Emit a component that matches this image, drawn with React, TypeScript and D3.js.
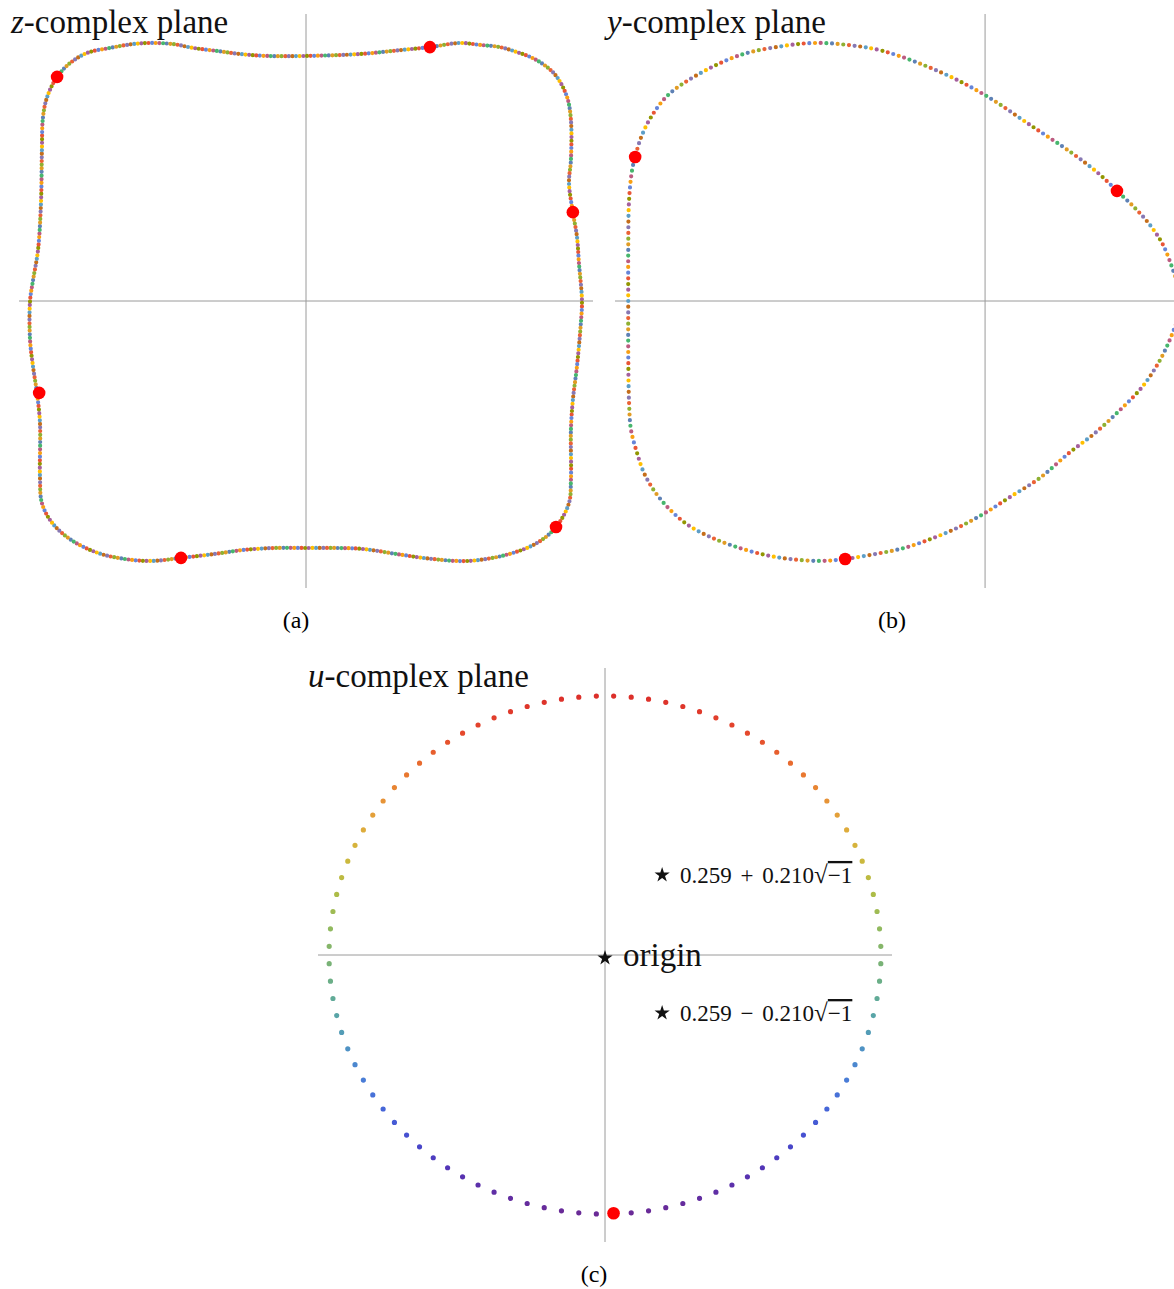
import React from "react";
import * as d3 from "d3";

const W = 1174;
const H = 1289;

const zOutline: [number, number][] = [
  [-1.0, 0.0], [-0.989, 0.076], [-0.971, 0.185], [-0.96, 0.366], [-0.957, 0.547],
  [-0.953, 0.667], [-0.938, 0.739], [-0.902, 0.812], [-0.855, 0.862], [-0.793, 0.899],
  [-0.71, 0.917], [-0.627, 0.931], [-0.565, 0.935], [-0.482, 0.931], [-0.409, 0.917],
  [-0.322, 0.906], [-0.239, 0.895], [-0.141, 0.888], [0.0, 0.888], [0.196, 0.895],
  [0.341, 0.909], [0.449, 0.92], [0.558, 0.935], [0.63, 0.928], [0.703, 0.92],
  [0.764, 0.902], [0.822, 0.88], [0.873, 0.848], [0.909, 0.812], [0.946, 0.739],
  [0.96, 0.656], [0.96, 0.511], [0.953, 0.428], [0.967, 0.322], [0.982, 0.232],
  [0.989, 0.138], [1.0, 0.0], [0.996, -0.08], [0.982, -0.236], [0.967, -0.359],
  [0.96, -0.467], [0.96, -0.649], [0.953, -0.732], [0.906, -0.819], [0.837, -0.877],
  [0.725, -0.92], [0.587, -0.942], [0.46, -0.935], [0.348, -0.92], [0.21, -0.899],
  [0.112, -0.895], [0.0, -0.895], [-0.112, -0.895], [-0.225, -0.902], [-0.333, -0.917],
  [-0.453, -0.931], [-0.558, -0.942], [-0.656, -0.935], [-0.754, -0.913], [-0.851, -0.866],
  [-0.92, -0.804], [-0.957, -0.732], [-0.964, -0.638], [-0.964, -0.442], [-0.975, -0.333],
  [-0.989, -0.239], [-1.0, -0.141],
];
const zMarked: [number, number][] = [
  [-0.902, 0.812], [0.449, 0.92], [0.967, 0.322], [0.906, -0.819], [-0.453, -0.931], [-0.967, -0.333],
];

// y-plane curve
const yOutline: [number, number][] = [
  [-1.293, 0.0], [-1.293, 0.185], [-1.29, 0.366], [-1.279, 0.475], [-1.268, 0.522],
  [-1.246, 0.594], [-1.21, 0.667], [-1.149, 0.746], [-1.043, 0.819], [-0.888, 0.891],
  [-0.732, 0.924], [-0.616, 0.935], [-0.5, 0.928], [-0.37, 0.906], [-0.163, 0.83],
  [0.0, 0.746], [0.163, 0.638], [0.315, 0.536], [0.409, 0.464], [0.478, 0.399],
  [0.543, 0.337], [0.598, 0.275], [0.645, 0.203], [0.685, 0.101], [0.717, 0.004],
  [0.681, -0.112], [0.634, -0.214], [0.569, -0.312], [0.489, -0.395], [0.399, -0.478],
  [0.304, -0.551], [0.199, -0.641], [0.091, -0.71], [0.0, -0.768], [-0.094, -0.819],
  [-0.188, -0.859], [-0.293, -0.895], [-0.399, -0.917], [-0.507, -0.935], [-0.598, -0.942],
  [-0.707, -0.935], [-0.797, -0.92], [-0.902, -0.891], [-0.996, -0.855], [-1.076, -0.812],
  [-1.141, -0.757], [-1.196, -0.692], [-1.236, -0.623], [-1.261, -0.551], [-1.283, -0.467],
  [-1.29, -0.37], [-1.293, -0.178],
];
const yMarked: [number, number][] = [[-1.268, 0.522], [0.478, 0.399], [-0.507, -0.935]];

// u-plane: unit circle sampled at 96 points, one marked point
const uRadius = 1;
const uDotCount = 96;
const uMarked: [number, number][] = [[0.031, -0.997]];
const uStars = [
  { x: 0.207, y: 0.309, label: "0.259 + 0.210" },
  { x: 0.207, y: -0.224, label: "0.259 \u2212 0.210" },
];

const zDotCount = 540;
const yDotCount = 300;

const palette = [
  "#5E81B5", "#E19C24", "#8FB032", "#EB6235", "#8778B3",
  "#C56E1A", "#5D9EC7", "#FFBF00", "#A5609D", "#929600",
  "#E95536", "#6685D9", "#F89F13", "#BC5B80", "#47B66D",
];

// colour along the u circle, top to bottom
const uStops: [number, string][] = [
  [0, "#dc2f2a"], [0.071, "#e5482d"], [0.145, "#e9742f"], [0.216, "#e69a38"],
  [0.27, "#dcb03c"], [0.328, "#c8ba3e"], [0.386, "#abbc48"], [0.448, "#92ba5f"],
  [0.5, "#80b46f"], [0.569, "#64ad90"], [0.631, "#56a2ae"], [0.689, "#4e90c8"],
  [0.743, "#497cd7"], [0.795, "#4667d8"], [0.844, "#4653d2"], [0.882, "#4a40c4"],
  [0.917, "#5533b4"], [1, "#6a2a96"],
];

const serif = "'Liberation Serif', 'Times New Roman', serif";
const axisColor = "#9a9a9a";

function DottedCurve({ pts, x, y, n, w }: any) {
  const line = d3
    .line<[number, number]>()
    .x((d) => x(d[0]))
    .y((d) => y(d[1]))
    .curve(d3.curveCatmullRomClosed.alpha(0.5));
  const d = line(pts) || "";
  const k = palette.length;
  return (
    <g>
      {palette.map((c, i) => (
        <path
          key={c}
          d={d}
          fill="none"
          stroke={c}
          strokeWidth={w}
          strokeLinecap="round"
          pathLength={n}
          strokeDasharray={`0 ${k}`}
          strokeDashoffset={-i}
        />
      ))}
    </g>
  );
}

function Axes({ x, y }: any) {
  const [x0, x1] = x.range();
  const [y0, y1] = y.range();
  return (
    <g stroke={axisColor} strokeWidth={1}>
      <line x1={x0} x2={x1} y1={y(0)} y2={y(0)} />
      <line x1={x(0)} x2={x(0)} y1={y0} y2={y1} />
    </g>
  );
}

function Marks({ pts, x, y }: any) {
  return (
    <g fill="#ff0000">
      {pts.map((p: [number, number], i: number) => (
        <circle key={i} cx={x(p[0])} cy={y(p[1])} r={6.3} />
      ))}
    </g>
  );
}

function Title({ x, y, v }: any) {
  return (
    <text x={x} y={y} fontFamily={serif} fontSize={33} fill="#111">
      <tspan fontStyle="italic">{v}</tspan>-complex plane
    </text>
  );
}

export default function App() {
  // panel (a)
  const ax = d3.scaleLinear().domain([-1.04, 1.04]).range([19, 593]);
  const ay = d3.scaleLinear().domain([-1.04, 1.04]).range([588, 14]);
  // panel (b)
  const bx = d3.scaleLinear().domain([-1.341, 0.739]).range([615, 1189]);
  const by = ay;
  // panel (c)
  const cx = d3.scaleLinear().domain([-1.04, 1.04]).range([318, 892]);
  const cy = d3.scaleLinear().domain([-1.108, 1.108]).range([1242, 668]);

  const star = d3.symbol().type(d3.symbolStar).size(72)() || "";

  return (
    <div style={{ position: "absolute", left: 0, top: 0 }}>
      <svg width={W} height={H} style={{ display: "block", background: "#fff" }}>
        <defs>
          <linearGradient
            id="uGrad"
            gradientUnits="userSpaceOnUse"
            x1={cx(0)}
            x2={cx(0)}
            y1={cy(uRadius)}
            y2={cy(-uRadius)}
          >
            {uStops.map(([o, c]) => (
              <stop key={o} offset={o} stopColor={c} />
            ))}
          </linearGradient>
        </defs>

        {/* (a) z-plane */}
        <Axes x={ax} y={ay} />
        <DottedCurve pts={zOutline} x={ax} y={ay} n={zDotCount} w={4.2} />
        <Marks pts={zMarked} x={ax} y={ay} />
        <Title x={11} y={33} v="z" />
        <text x={296} y={628} textAnchor="middle" fontFamily={serif} fontSize={24}>(a)</text>

        {/* (b) y-plane */}
        <Axes x={bx} y={by} />
        <DottedCurve pts={yOutline} x={bx} y={by} n={yDotCount} w={4.2} />
        <Marks pts={yMarked} x={bx} y={by} />
        <Title x={607} y={33} v="y" />
        <text x={892} y={628} textAnchor="middle" fontFamily={serif} fontSize={24}>(b)</text>

        {/* (c) u-plane */}
        <Axes x={cx} y={cy} />
        <ellipse
          cx={cx(0)}
          cy={cy(0)}
          rx={cx(uRadius) - cx(0)}
          ry={cy(0) - cy(uRadius)}
          fill="none"
          stroke="url(#uGrad)"
          strokeWidth={5.2}
          strokeLinecap="round"
          pathLength={uDotCount}
          strokeDasharray="0 1"
          strokeDashoffset={0.5}
        />
        <Marks pts={uMarked} x={cx} y={cy} />
        <Title x={308} y={687} v="u" />

        <path d={star} transform={`translate(${cx(0)},${cy(0) + 3})`} fill="#111" />
        <text x={cx(0) + 18} y={cy(0) + 11} fontFamily={serif} fontSize={33} fill="#111">origin</text>

        {uStars.map((s, i) => (
          <g key={i} transform={`translate(${cx(s.x)},${cy(s.y)})`}>
            <path d={star} fill="#111" />
            <text x={18} y={8} fontFamily={serif} fontSize={23} fill="#111" wordSpacing={3}>
              {s.label}
              <tspan fontSize={25}>{"\u221A"}</tspan>
              <tspan style={{ textDecoration: "overline" }}>{"\u22121"}</tspan>
            </text>
          </g>
        ))}

        <text x={594} y={1282} textAnchor="middle" fontFamily={serif} fontSize={24}>(c)</text>
      </svg>
    </div>
  );
}
